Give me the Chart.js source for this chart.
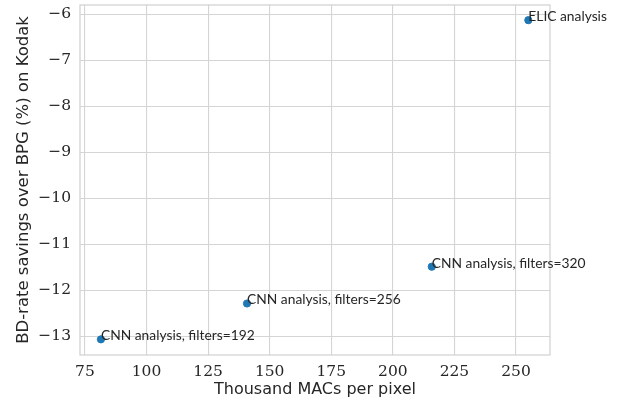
<!DOCTYPE html>
<html><head><meta charset="utf-8">
<script src="https://cdn.jsdelivr.net/npm/chart.js@4/dist/chart.umd.min.js"></script>
<style>html,body{margin:0;padding:0;background:#fff}#wrap{width:618px;height:407px}</style>
</head><body><div id="wrap"><canvas id="c" width="618" height="407"></canvas></div>
<script>
const labels = ["CNN analysis, filters=192","CNN analysis, filters=256","CNN analysis, filters=320","ELIC analysis"];
const macs = [81.5, 140.8, 215.8, 255.0];
const savings = [-13.07, -12.29, -11.49, -6.13];
const xTicks = [75,100,125,150,175,200,225,250];
const yTicks = [-13,-12,-11,-10,-9,-8,-7,-6];

const SERIF = "'DejaVu Serif', 'Liberation Serif', serif";
const SANS = "'DejaVu Sans', sans-serif";
const fmt = v => v < 0 ? '\u2212' + Math.abs(v) : String(v);
const annot = {
  id:'annot',
  afterDatasetsDraw(chart){
    const ctx = chart.ctx, xs = chart.scales.x, ys = chart.scales.y;
    ctx.save();
    ctx.font = "13.8px 'Lato'";
    ctx.fillStyle = '#262626';
    ctx.textAlign = 'left'; ctx.textBaseline = 'alphabetic';
    labels.forEach((t,i)=>{ ctx.fillText(t, xs.getPixelForValue(macs[i]), ys.getPixelForValue(savings[i])+1); });
    ctx.restore();
  },
  beforeDatasetsDraw(chart){
    const a = chart.chartArea, ctx = chart.ctx;
    ctx.save(); ctx.strokeStyle = '#d0d0d0'; ctx.lineWidth = 1.2;
    ctx.strokeRect(a.left, a.top, a.right-a.left, a.bottom-a.top);
    ctx.restore();
  }
};
function build(){
new Chart(document.getElementById('c'), {
  type:'scatter',
  data:{datasets:[{data: macs.map((x,i)=>({x, y:savings[i]})), backgroundColor:'#1f77b4', borderColor:'#1f77b4', pointRadius:3.6, pointHoverRadius:3.6}]},
  options:{
    responsive:false, animation:false, events:[],
    layout:{padding:{left:0,right:68,top:5,bottom:0}},
    plugins:{legend:{display:false}, tooltip:{enabled:false}},
    scales:{
      x:{type:'linear', min:73, max:263.8,
        afterBuildTicks(s){ s.ticks = xTicks.map(v=>({value:v})); },
        afterFit(s){ s.height = 52; s.paddingLeft = 0; s.paddingRight = 0; },
        ticks:{callback:fmt, font:{family:SERIF, size:15.5}, color:'#262626', padding:8, maxRotation:0},
        grid:{color:'#d5d5d5', lineWidth:1.1, drawTicks:false},
        border:{display:false},
        title:{display:true, text:'Thousand MACs per pixel', font:{family:SANS, size:16}, color:'#262626', padding:{top:0,bottom:8}}
      },
      y:{type:'linear', min:-13.41, max:-5.8,
        afterBuildTicks(s){ s.ticks = yTicks.map(v=>({value:v})); },
        afterFit(s){ s.width = 80; s.paddingTop = 0; s.paddingBottom = 0; },
        ticks:{callback:fmt, font:{family:SERIF, size:15.5}, color:'#262626', padding:9},
        grid:{color:'#d5d5d5', lineWidth:1.1, drawTicks:false},
        border:{display:false},
        title:{display:true, text:'BD-rate savings over BPG (%) on Kodak', font:{family:SANS, size:16.5}, color:'#262626', padding:{top:14,bottom:0}}
      }
    }
  },
  plugins:[annot]
});
}
if (document.fonts && document.fonts.load) {
  Promise.all([document.fonts.load("15px 'DejaVu Serif'"), document.fonts.load("17px 'DejaVu Sans'"), document.fonts.load("13.8px 'Lato'")]).then(build, build);
} else build();
</script></body></html>
